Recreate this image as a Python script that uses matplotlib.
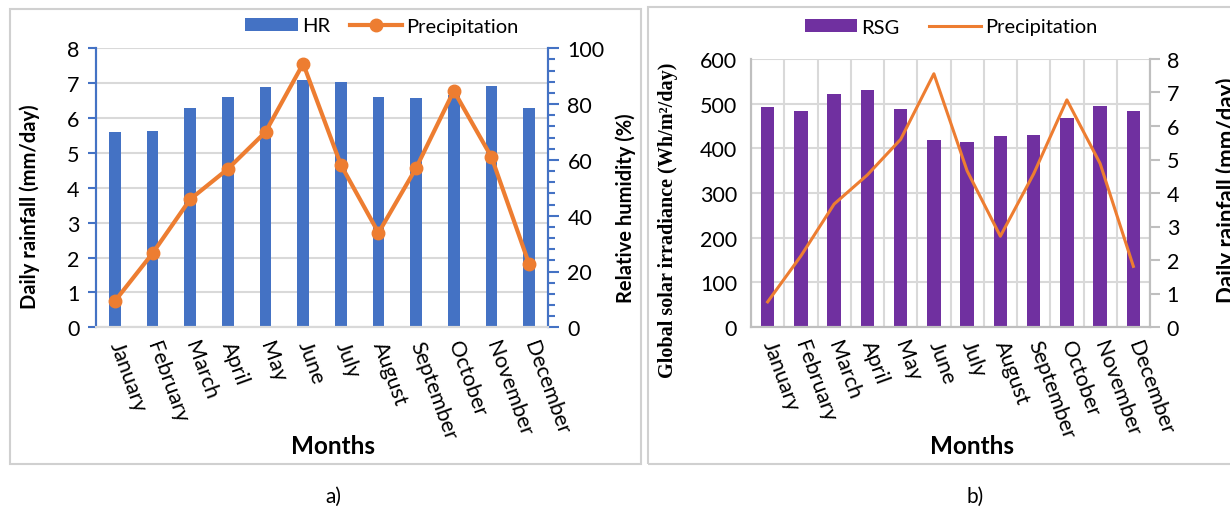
import matplotlib
matplotlib.use("Agg")
import matplotlib.pyplot as plt
from matplotlib.patches import Rectangle
from matplotlib.ticker import MultipleLocator
import numpy as np

months = ["January", "February", "March", "April", "May", "June", "July",
          "August", "September", "October", "November", "December"]
# daily rainfall, mm/day
precip = [0.75, 2.12, 3.67, 4.54, 5.60, 7.56, 4.66, 2.71, 4.57, 6.78, 4.88, 1.81]
# relative humidity, %
hr = [69.9, 70.5, 78.5, 82.4, 86.1, 88.8, 87.9, 82.4, 82.2, 83.3, 86.6, 78.6]
# global solar irradiance, Wh/m2/day
rsg = [493, 483, 521, 530, 489, 418, 415, 427, 429, 468, 495, 483]

BLUE = "#4472C4"
ORANGE = "#ED7D31"
PURPLE = "#7030A0"
GRID = "#D9D9D9"

plt.rcParams['font.family'] = ['Lato', 'DejaVu Sans']
TICK_FS = 15.5

fig = plt.figure(figsize=(12.3, 5.1), dpi=100)
W, H = 1230, 510

def px_axes(x0, y0, x1, y1):
    # pixel box (top-left origin) -> figure axes
    return fig.add_axes([x0 / W, 1 - y1 / H, (x1 - x0) / W, (y1 - y0) / H])

def ftext(x, y, s, **kw):
    fig.text(x / W, 1 - y / H, s, **kw)

# panel frames
fig.patches.append(Rectangle((10 / W, 1 - 465 / H), 631 / W, 455 / H, transform=fig.transFigure,
                             fill=False, edgecolor="#D0D0D0", lw=1.5))
fig.patches.append(Rectangle((648 / W, 1 - 465 / H), 600 / W, 457 / H, transform=fig.transFigure,
                             fill=False, edgecolor="#D0D0D0", lw=1.5))

x = np.arange(len(months))

def style_months(ax):
    ax.set_xlim(-0.5, len(months) - 0.5)
    ax.set_xticks(x)
    ax.set_xticklabels(months, rotation=-70, rotation_mode="anchor", ha="left", va="center",
                       fontsize=TICK_FS)
    ax.tick_params(axis="x", length=0, pad=10)

# ---------------- a) ----------------
ax1 = px_axes(96, 49.3, 548, 328.3)
ax1r = ax1.twinx()
ax1.set_zorder(ax1r.get_zorder() + 1)
ax1.patch.set_visible(False)

ax1r.bar(x, hr, width=0.31, color=BLUE, label="HR", zorder=2)
ax1r.set_ylim(0, 100)
ax1r.yaxis.set_major_locator(MultipleLocator(20))
ax1r.yaxis.set_minor_locator(MultipleLocator(4))
ax1r.tick_params(axis="y", which="major", length=8, width=1.5, color=BLUE, labelsize=TICK_FS, pad=6)
ax1r.tick_params(axis="y", which="minor", length=5, width=1.5, color=BLUE)

ax1.plot(x, precip, color=ORANGE, lw=3, marker="o", ms=9, label="Precipitation", zorder=3)
ax1.set_ylim(0, 8)
ax1.set_yticks(range(0, 9))
ax1.tick_params(axis="y", length=6, width=1.5, color=BLUE, labelsize=TICK_FS, pad=6)
ax1r.set_axisbelow(True)
for v in range(0, 9):
    ax1r.axhline(v * 12.5, color=GRID, lw=1.5, zorder=0)
style_months(ax1)

for a in (ax1, ax1r):
    a.spines["top"].set_visible(False)
    a.spines["left"].set_color(BLUE)
    a.spines["right"].set_color(BLUE)
    a.spines["bottom"].set_color(GRID)
    for s in ("left", "right", "bottom"):
        a.spines[s].set_linewidth(1.5)

h1, l1 = ax1r.get_legend_handles_labels()
h2, l2 = ax1.get_legend_handles_labels()
fig.legend(h1 + h2, l1 + l2, loc="center", bbox_to_anchor=(382 / W, 1 - 27 / H), ncol=2,
           frameon=False, fontsize=14.5, handlelength=2.6, handleheight=0.6, columnspacing=1.0,
           handletextpad=0.2, borderpad=0.2)

ftext(30, 207, "Daily rainfall (mm/day)", rotation=90, ha="center", va="center",
      fontsize=14.5, fontweight="bold")
ftext(626, 208, "Relative humidity (%)", rotation=90, ha="center", va="center",
      fontsize=14.5, fontweight="bold")
ftext(333, 447, "Months", ha="center", va="center", fontsize=17.5, fontweight="bold")
ftext(333, 497, "a)", ha="center", va="center", fontsize=15)

# ---------------- b) ----------------
ax2 = px_axes(751, 60, 1150, 328)
ax2r = ax2.twinx()
ax2r.set_zorder(ax2.get_zorder() + 1)
ax2r.patch.set_visible(False)

ax2.bar(x, rsg, width=0.4, color=PURPLE, label="RSG", zorder=2)
ax2.set_ylim(0, 600)
ax2.set_yticks(range(0, 601, 100))
ax2.tick_params(axis="y", length=0, labelsize=TICK_FS, pad=10)
ax2.set_xticks(np.arange(-0.5, len(months), 1), minor=True)
ax2.grid(True, which="minor", axis="x", color=GRID, lw=1.5, zorder=0)
ax2.grid(True, which="major", axis="y", color=GRID, lw=1.5, zorder=0)
ax2.tick_params(axis="x", which="minor", length=0)
ax2.set_axisbelow(True)
style_months(ax2)

ax2r.plot(x, precip, color=ORANGE, lw=2.2, label="Precipitation", zorder=3)
ax2r.set_ylim(0, 8)
ax2r.set_yticks(range(0, 9))
ax2r.tick_params(axis="y", length=7, width=1.5, color="#BFBFBF", labelsize=TICK_FS, pad=5)

for a in (ax2, ax2r):
    a.spines["top"].set_visible(False)
    for s in ("left", "right", "bottom"):
        a.spines[s].set_color("#BFBFBF")
        a.spines[s].set_linewidth(1.5)

h1, l1 = ax2.get_legend_handles_labels()
h2, l2 = ax2r.get_legend_handles_labels()
fig.legend(h1 + h2, l1 + l2, loc="center", bbox_to_anchor=(951 / W, 1 - 28 / H), ncol=2,
           frameon=False, fontsize=14.5, handlelength=2.6, handleheight=0.6, columnspacing=1.45,
           handletextpad=0.2, borderpad=0.2)

ftext(668, 220, "Global solar irradiance (Wh/m\u00b2/day)", rotation=90, ha="center", va="center",
      fontsize=14.5, fontweight="bold", family="Liberation Serif")
ftext(1216, 190, "Daily rainfall (mm/day)", rotation=90, ha="left", va="center",
      fontsize=16, fontweight="bold")
ftext(972, 447, "Months", ha="center", va="center", fontsize=17.5, fontweight="bold")
ftext(975, 497, "b)", ha="center", va="center", fontsize=15)

fig.savefig("out.png", dpi=100)
